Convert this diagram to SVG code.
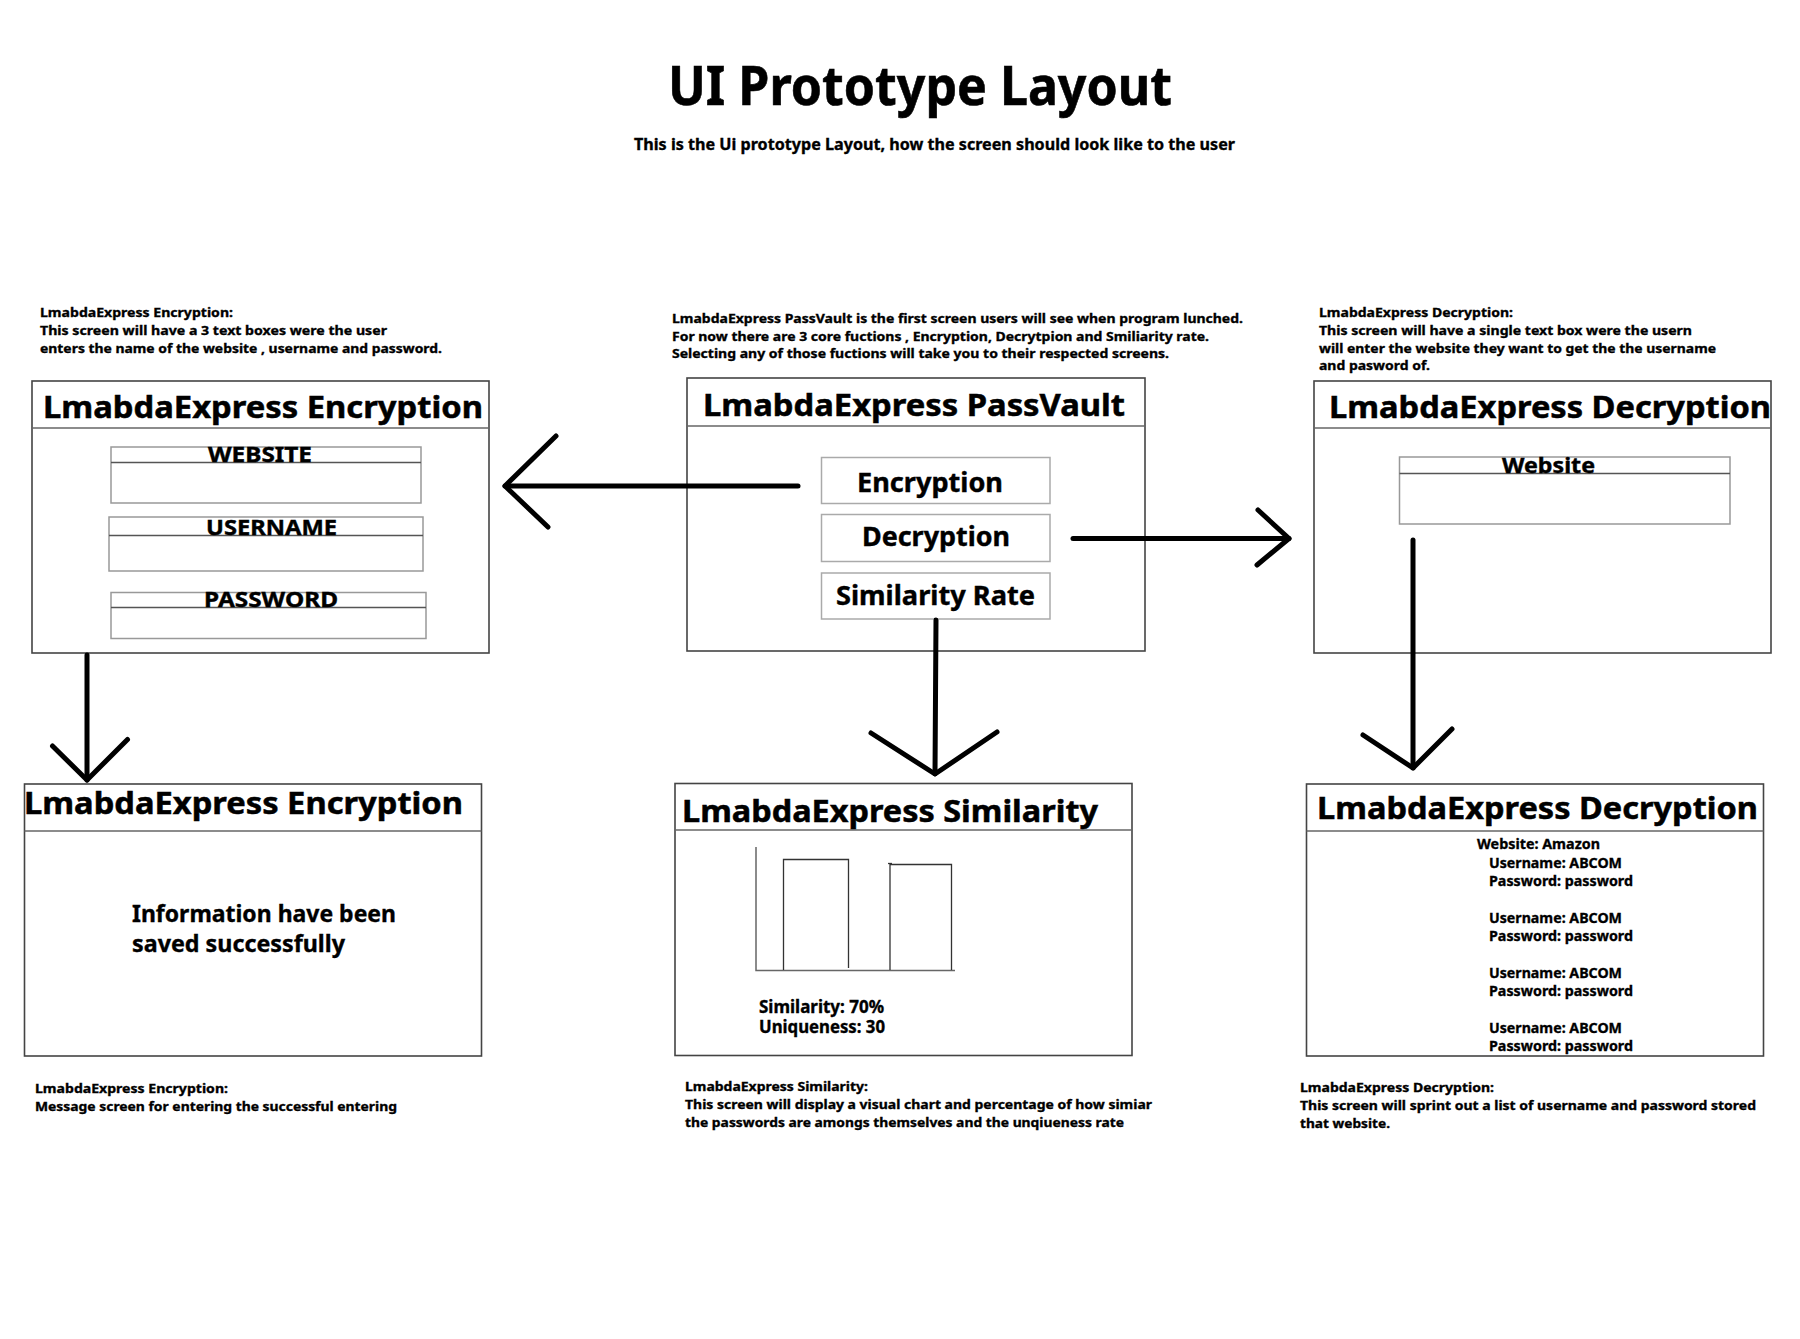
<svg xmlns="http://www.w3.org/2000/svg" width="1800" height="1339" viewBox="0 0 1800 1339">
<style>
text{font-family:"Noto Sans","Liberation Sans",sans-serif;font-weight:bold;fill:#000}
.screen{fill:#fff;stroke:#444;stroke-width:1.6}
.hdr{stroke:#666;stroke-width:1.4}
.field{fill:#fff;stroke:#999;stroke-width:1.5}
.fline{stroke:#555;stroke-width:1.3}
.btn{fill:#fff;stroke:#aaa;stroke-width:1.5}
.desc{font-size:13px;stroke:#000;stroke-width:0.35}
.sm{stroke:#000;stroke-width:0.35}
.ttl{font-size:30px;stroke:#000;stroke-width:0.5}
.lbl{font-size:21px;stroke:#000;stroke-width:0.4}
.bt{font-size:26px;stroke:#000;stroke-width:0.4}
.conn{fill:none;stroke:#000;stroke-width:5;stroke-linecap:round;stroke-linejoin:round}
.axis{fill:none;stroke:#666;stroke-width:1.5}
.bar{fill:none;stroke:#333;stroke-width:1.3}
</style>
<rect width="1800" height="1339" fill="#fff"/>
<g id="header">
<text x="668" y="105" font-size="54" textLength="504" lengthAdjust="spacingAndGlyphs" stroke="#000" stroke-width="0.6">UI Prototype Layout</text>
<text class="sm" x="634" y="150" font-size="16.5" textLength="601" lengthAdjust="spacingAndGlyphs">This is the Ui prototype Layout, how the screen should  look like to the user</text>
</g>
<g id="desc-encryption">
<text class="desc" x="40" y="317" textLength="193" lengthAdjust="spacingAndGlyphs">LmabdaExpress Encryption:</text>
<text class="desc" x="40" y="335" textLength="347" lengthAdjust="spacingAndGlyphs">This screen will have a 3 text boxes were the user</text>
<text class="desc" x="40" y="353" textLength="402" lengthAdjust="spacingAndGlyphs">enters the name of the website , username and password.</text>
</g>
<g id="desc-passvault">
<text class="desc" x="672" y="323" textLength="571" lengthAdjust="spacingAndGlyphs">LmabdaExpress PassVault is the first screen users will see when program lunched.</text>
<text class="desc" x="672" y="341" textLength="537" lengthAdjust="spacingAndGlyphs">For now there are 3 core fuctions , Encryption, Decrytpion and Smiliarity rate.</text>
<text class="desc" x="672" y="358" textLength="497" lengthAdjust="spacingAndGlyphs">Selecting any of those fuctions will take you to their respected screens.</text>
</g>
<g id="desc-decryption">
<text class="desc" x="1319" y="317" textLength="194" lengthAdjust="spacingAndGlyphs">LmabdaExpress Decryption:</text>
<text class="desc" x="1319" y="335" textLength="373" lengthAdjust="spacingAndGlyphs">This screen will have a single text box were the usern</text>
<text class="desc" x="1319" y="353" textLength="397" lengthAdjust="spacingAndGlyphs">will enter the website they want to get the the username</text>
<text class="desc" x="1319" y="370" textLength="111" lengthAdjust="spacingAndGlyphs">and pasword of.</text>
</g>
<g id="screen-encryption">
<rect class="screen" x="32" y="381" width="457" height="272"/>
<line class="hdr" x1="32" y1="428" x2="489" y2="428"/>
<text class="ttl" x="43" y="418" textLength="440" lengthAdjust="spacingAndGlyphs">LmabdaExpress Encryption</text>
<rect class="field" x="111" y="447" width="310" height="56"/>
<line class="fline" x1="111" y1="462.5" x2="421" y2="462.5"/>
<text class="lbl" x="208" y="462" textLength="104" lengthAdjust="spacingAndGlyphs">WEBSITE</text>
<rect class="field" x="109" y="517" width="314" height="54"/>
<line class="fline" x1="109" y1="535.5" x2="423" y2="535.5"/>
<text class="lbl" x="206" y="535" textLength="131" lengthAdjust="spacingAndGlyphs">USERNAME</text>
<rect class="field" x="111" y="592.5" width="315" height="46"/>
<line class="fline" x1="111" y1="607.5" x2="426" y2="607.5"/>
<text class="lbl" x="204" y="607" textLength="134" lengthAdjust="spacingAndGlyphs">PASSWORD</text>
</g>
<g id="screen-passvault">
<rect class="screen" x="687" y="378" width="458" height="273"/>
<line class="hdr" x1="687" y1="426" x2="1145" y2="426"/>
<text class="ttl" x="703" y="416" textLength="422" lengthAdjust="spacingAndGlyphs">LmabdaExpress PassVault</text>
<rect class="btn" x="821.5" y="457.5" width="228.5" height="46"/>
<text class="bt" x="857" y="492" textLength="146" lengthAdjust="spacingAndGlyphs">Encryption</text>
<rect class="btn" x="821.5" y="514.5" width="228.5" height="47"/>
<text class="bt" x="862" y="546" textLength="148" lengthAdjust="spacingAndGlyphs">Decryption</text>
<rect class="btn" x="821.5" y="573" width="228.5" height="46"/>
<text class="bt" x="836" y="605" textLength="199" lengthAdjust="spacingAndGlyphs">Similarity Rate</text>
</g>
<g id="screen-decryption">
<rect class="screen" x="1314" y="381" width="457" height="272"/>
<line class="hdr" x1="1314" y1="428" x2="1771" y2="428"/>
<text class="ttl" x="1329" y="418" textLength="442" lengthAdjust="spacingAndGlyphs">LmabdaExpress Decryption</text>
<rect class="field" x="1399.5" y="457" width="330.5" height="67"/>
<line class="fline" x1="1399.5" y1="473.5" x2="1730" y2="473.5"/>
<text class="lbl" x="1502" y="473" textLength="93" lengthAdjust="spacingAndGlyphs">Website</text>
</g>
<g id="screen-encryption-saved">
<rect class="screen" x="24.5" y="784" width="457" height="272"/>
<line class="hdr" x1="24.5" y1="831" x2="481.5" y2="831"/>
<text class="ttl" x="24" y="814" textLength="439" lengthAdjust="spacingAndGlyphs">LmabdaExpress Encryption</text>
<text class="sm" x="132" y="922" font-size="23" textLength="264" lengthAdjust="spacingAndGlyphs">Information have been</text>
<text class="sm" x="132" y="952" font-size="23" textLength="213" lengthAdjust="spacingAndGlyphs">saved successfully</text>
</g>
<g id="screen-similarity">
<rect class="screen" x="675" y="783.5" width="457" height="272"/>
<line class="hdr" x1="675" y1="830" x2="1132" y2="830"/>
<text class="ttl" x="682" y="822" textLength="416" lengthAdjust="spacingAndGlyphs">LmabdaExpress Similarity</text>
<polyline class="axis" points="756,847 756,970.5 955,970.5"/>
<polyline class="bar" points="783.5,970 783.5,859.5 848.5,859.5 848.5,968"/>
<polyline class="bar" points="890,970 890,864.5 951.5,864.5 951.5,970"/>
<line class="bar" x1="888" y1="863.5" x2="892" y2="863.5"/>
<text class="sm" x="759" y="1013" font-size="17" textLength="125" lengthAdjust="spacingAndGlyphs">Similarity: 70%</text>
<text class="sm" x="759" y="1033" font-size="17" textLength="126" lengthAdjust="spacingAndGlyphs">Uniqueness: 30</text>
</g>
<g id="screen-decryption-list">
<rect class="screen" x="1306.5" y="784" width="457" height="272"/>
<line class="hdr" x1="1306.5" y1="831" x2="1763.5" y2="831"/>
<text class="ttl" x="1317" y="819" textLength="441" lengthAdjust="spacingAndGlyphs">LmabdaExpress Decryption</text>
<g font-size="15" class="sm">
<text class="sm" x="1477" y="849" textLength="123" lengthAdjust="spacingAndGlyphs">Website: Amazon</text>
<text class="sm" x="1489" y="868" textLength="133" lengthAdjust="spacingAndGlyphs">Username: ABCOM</text>
<text class="sm" x="1489" y="886" textLength="144" lengthAdjust="spacingAndGlyphs">Password: password</text>
<text class="sm" x="1489" y="923" textLength="133" lengthAdjust="spacingAndGlyphs">Username: ABCOM</text>
<text class="sm" x="1489" y="941" textLength="144" lengthAdjust="spacingAndGlyphs">Password: password</text>
<text class="sm" x="1489" y="978" textLength="133" lengthAdjust="spacingAndGlyphs">Username: ABCOM</text>
<text class="sm" x="1489" y="996" textLength="144" lengthAdjust="spacingAndGlyphs">Password: password</text>
<text class="sm" x="1489" y="1033" textLength="133" lengthAdjust="spacingAndGlyphs">Username: ABCOM</text>
<text class="sm" x="1489" y="1051" textLength="144" lengthAdjust="spacingAndGlyphs">Password: password</text>
</g>
</g>
<g id="desc-encryption-saved">
<text class="desc" x="35" y="1093" textLength="193" lengthAdjust="spacingAndGlyphs">LmabdaExpress Encryption:</text>
<text class="desc" x="35" y="1111" textLength="362" lengthAdjust="spacingAndGlyphs">Message screen for entering the successful entering</text>
</g>
<g id="desc-similarity">
<text class="desc" x="685" y="1091" textLength="183" lengthAdjust="spacingAndGlyphs">LmabdaExpress Similarity:</text>
<text class="desc" x="685" y="1109" textLength="467" lengthAdjust="spacingAndGlyphs">This screen will display a visual chart and percentage of how simiar</text>
<text class="desc" x="685" y="1127" textLength="439" lengthAdjust="spacingAndGlyphs">the passwords are amongs themselves and the unqiueness rate</text>
</g>
<g id="desc-decryption-list">
<text class="desc" x="1300" y="1092" textLength="194" lengthAdjust="spacingAndGlyphs">LmabdaExpress Decryption:</text>
<text class="desc" x="1300" y="1110" textLength="456" lengthAdjust="spacingAndGlyphs">This screen will sprint out a list of username and password stored</text>
<text class="desc" x="1300" y="1128" textLength="90" lengthAdjust="spacingAndGlyphs">that website.</text>
</g>
<g id="connectors">
<polyline class="conn" points="798,486 505,486"/>
<polyline class="conn" points="556,436 505,486 548,527"/>
<polyline class="conn" points="1073,538.5 1289,538.5"/>
<polyline class="conn" points="1258,510 1289,538.5 1257,565"/>
<polyline class="conn" points="936,620 935,774"/>
<polyline class="conn" points="871,733 935,774 997,732"/>
<polyline class="conn" points="1413,540 1413,768"/>
<polyline class="conn" points="1363,735 1413,768 1452,729"/>
<polyline class="conn" points="87,655 87,780"/>
<polyline class="conn" points="52.5,746 87,780 127.5,739.5"/>
</g>
</svg>
